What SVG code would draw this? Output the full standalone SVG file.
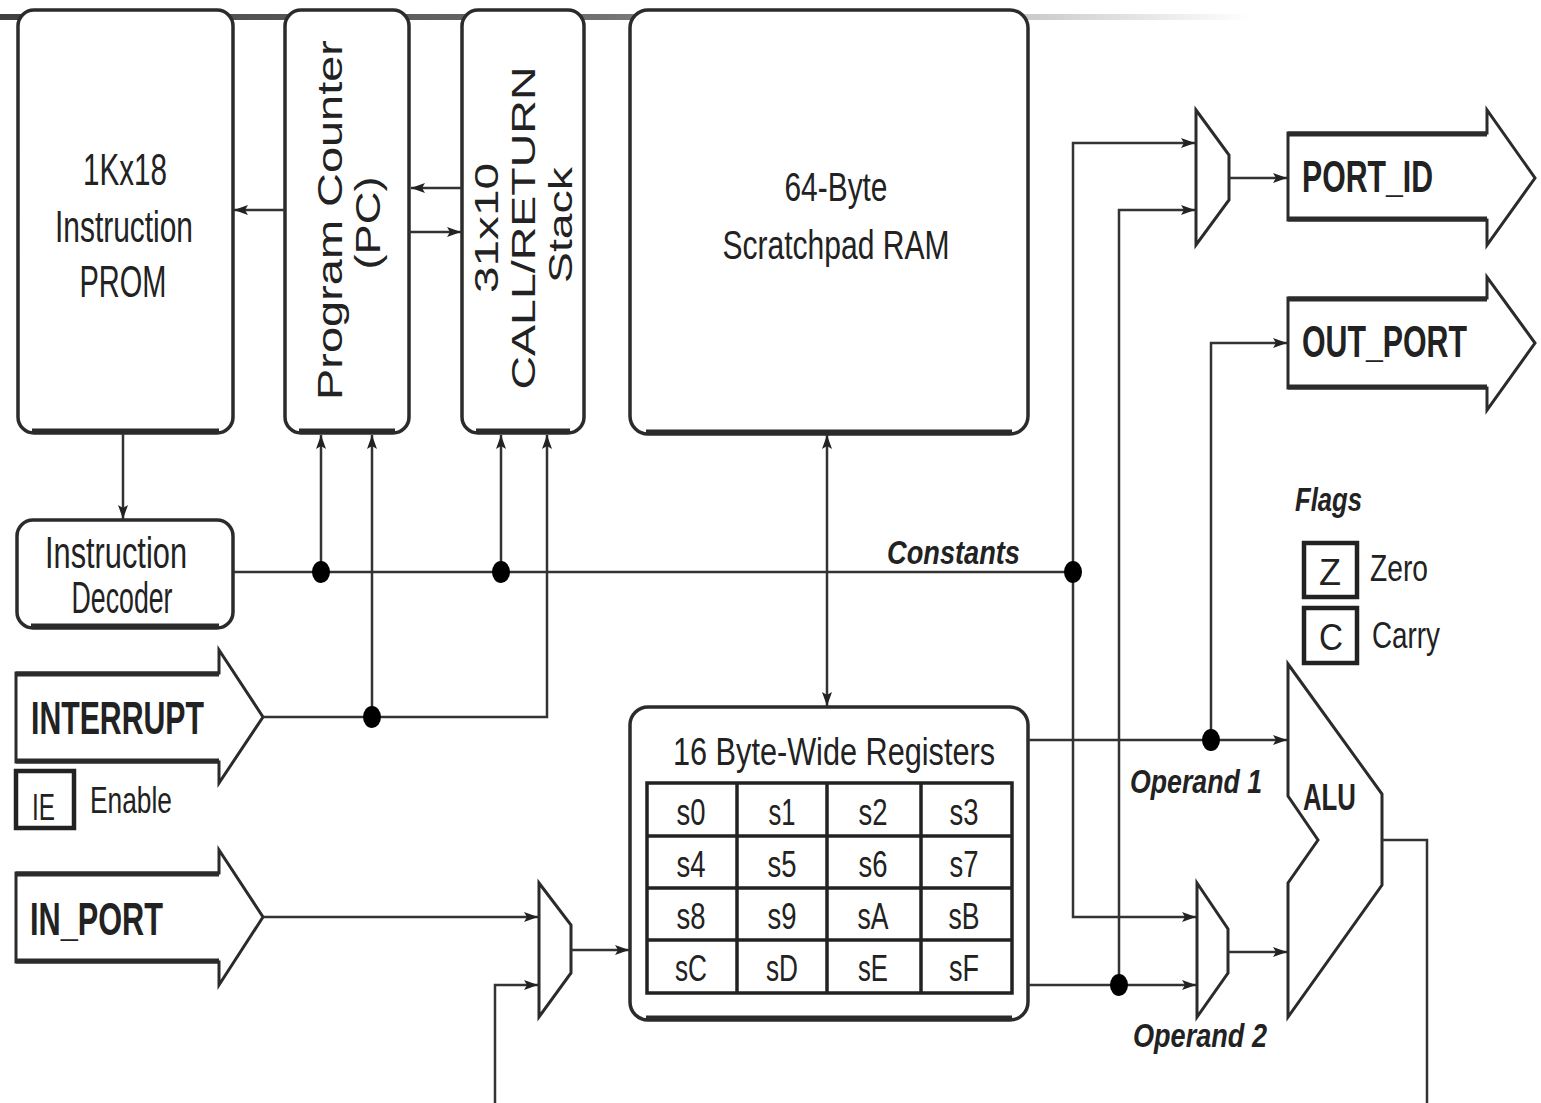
<svg xmlns="http://www.w3.org/2000/svg" width="1541" height="1103" viewBox="0 0 1541 1103">
<defs>
<linearGradient id="bar" x1="0" y1="0" x2="1250" y2="0" gradientUnits="userSpaceOnUse">
<stop offset="0" stop-color="#404040"/>
<stop offset="0.45" stop-color="#6a6a6a"/>
<stop offset="0.8" stop-color="#c4c4c4"/>
<stop offset="1" stop-color="#ffffff"/>
</linearGradient>
<marker id="ah" markerUnits="userSpaceOnUse" markerWidth="15" markerHeight="11" refX="14" refY="5" orient="auto-start-reverse" viewBox="0 0 15 10">
<path d="M0,0 L14,5 L0,10 L3,5 Z" fill="#222"/>
</marker>
<style>
.box{fill:#fff;stroke:#2b2b2b;stroke-width:3.5}
.shape{fill:#fff;stroke:#2b2b2b;stroke-width:3}
.flag{fill:#fff;stroke:#222;stroke-width:4.5}
.wire{fill:none;stroke:#333;stroke-width:2.5}
.arr{marker-end:url(#ah)}
.dot{fill:#000}
.t{font-family:"Liberation Sans",Arial,sans-serif;fill:#222}
.b{font-weight:bold}
.i{font-style:italic;font-weight:bold}
.grid{fill:none;stroke:#222;stroke-width:3.5}
.shadow{fill:none;stroke:#2b2b2b;stroke-width:5}
</style>
</defs>
<rect width="1541" height="1103" fill="#fff"/>

<rect x="0" y="14" width="1250" height="6" fill="url(#bar)"/>

<g id="prom">
<rect class="box" x="18" y="10" width="215" height="423" rx="16"/>
<path class="shadow" d="M32,431 H219"/>
<text class="t" x="125" y="185" font-size="45" text-anchor="middle" textLength="84" lengthAdjust="spacingAndGlyphs">1Kx18</text>
<text class="t" x="124" y="242" font-size="45" text-anchor="middle" textLength="138" lengthAdjust="spacingAndGlyphs">Instruction</text>
<text class="t" x="123" y="297" font-size="45" text-anchor="middle" textLength="87" lengthAdjust="spacingAndGlyphs">PROM</text>
</g>

<g id="pc">
<rect class="box" x="285" y="10" width="124" height="423" rx="16"/>
<path class="shadow" d="M299,431 H395"/>
<text class="t" transform="translate(342,220) rotate(-90)" font-size="35" text-anchor="middle" textLength="360" lengthAdjust="spacingAndGlyphs">Program Counter</text>
<text class="t" transform="translate(380,223) rotate(-90)" font-size="35" text-anchor="middle" textLength="93" lengthAdjust="spacingAndGlyphs">(PC)</text>
</g>

<g id="stack">
<rect class="box" x="462" y="10" width="122" height="423" rx="16"/>
<path class="shadow" d="M476,431 H570"/>
<text class="t" transform="translate(498,228) rotate(-90)" font-size="34" text-anchor="middle" textLength="130" lengthAdjust="spacingAndGlyphs">31x10</text>
<text class="t" transform="translate(535,228) rotate(-90)" font-size="34" text-anchor="middle" textLength="323" lengthAdjust="spacingAndGlyphs">CALL/RETURN</text>
<text class="t" transform="translate(572,225) rotate(-90)" font-size="34" text-anchor="middle" textLength="116" lengthAdjust="spacingAndGlyphs">Stack</text>
</g>

<g id="ram">
<rect class="box" x="630" y="10" width="398" height="424" rx="18"/>
<path class="shadow" d="M646,432 H1012"/>
<text class="t" x="836" y="201" font-size="40" text-anchor="middle" textLength="103" lengthAdjust="spacingAndGlyphs">64-Byte</text>
<text class="t" x="836" y="259" font-size="40" text-anchor="middle" textLength="227" lengthAdjust="spacingAndGlyphs">Scratchpad RAM</text>
</g>

<g id="decoder">
<rect class="box" x="17" y="520" width="216" height="108" rx="16"/>
<path class="shadow" d="M31,626 H219"/>
<text class="t" x="116" y="568" font-size="44" text-anchor="middle" textLength="142" lengthAdjust="spacingAndGlyphs">Instruction</text>
<text class="t" x="122" y="613" font-size="44" text-anchor="middle" textLength="101" lengthAdjust="spacingAndGlyphs">Decoder</text>
</g>

<g id="interrupt">
<path class="shape" d="M16,673 H219 V650 L263,717 L219,783 V762 H16 Z"/>
<path d="M16,674 H219 M16,761 H219" stroke="#2b2b2b" stroke-width="5"/>
<text class="t b" x="31" y="734" font-size="46" textLength="173" lengthAdjust="spacingAndGlyphs">INTERRUPT</text>
</g>

<g id="ie">
<rect class="flag" x="16" y="771" width="58" height="57"/>
<text class="t" x="32" y="820" font-size="36" textLength="23" lengthAdjust="spacingAndGlyphs">IE</text>
<text class="t" x="90" y="813" font-size="36" textLength="82" lengthAdjust="spacingAndGlyphs">Enable</text>
</g>

<g id="in_port">
<path class="shape" d="M16,873 H219 V850 L263,917 L219,985 V962 H16 Z"/>
<path d="M16,874 H219 M16,961 H219" stroke="#2b2b2b" stroke-width="5"/>
<text class="t b" x="30" y="935" font-size="46" textLength="133" lengthAdjust="spacingAndGlyphs">IN_PORT</text>
</g>

<g id="in_mux">
<path class="shape" d="M539,883 L571,925 V973 L539,1017 Z"/>
</g>

<g id="registers">
<rect class="box" x="630" y="707" width="398" height="313" rx="18"/>
<path class="shadow" d="M646,1018 H1012"/>
<text class="t" x="834" y="765" font-size="38" text-anchor="middle" textLength="322" lengthAdjust="spacingAndGlyphs">16 Byte-Wide Registers</text>
<rect class="grid" x="647" y="783" width="365" height="210"/>
<path class="grid" d="M737,783 V993 M827,783 V993 M921,783 V993 M647,836 H1012 M647,888 H1012 M647,940 H1012"/>
<g class="t" font-size="36" text-anchor="middle">
<text x="691" y="825" textLength="29" lengthAdjust="spacingAndGlyphs">s0</text>
<text x="782" y="825" textLength="27" lengthAdjust="spacingAndGlyphs">s1</text>
<text x="873" y="825" textLength="29" lengthAdjust="spacingAndGlyphs">s2</text>
<text x="964" y="825" textLength="29" lengthAdjust="spacingAndGlyphs">s3</text>
<text x="691" y="877" textLength="29" lengthAdjust="spacingAndGlyphs">s4</text>
<text x="782" y="877" textLength="29" lengthAdjust="spacingAndGlyphs">s5</text>
<text x="873" y="877" textLength="29" lengthAdjust="spacingAndGlyphs">s6</text>
<text x="964" y="877" textLength="29" lengthAdjust="spacingAndGlyphs">s7</text>
<text x="691" y="929" textLength="29" lengthAdjust="spacingAndGlyphs">s8</text>
<text x="782" y="929" textLength="29" lengthAdjust="spacingAndGlyphs">s9</text>
<text x="873" y="929" textLength="31" lengthAdjust="spacingAndGlyphs">sA</text>
<text x="964" y="929" textLength="31" lengthAdjust="spacingAndGlyphs">sB</text>
<text x="691" y="981" textLength="32" lengthAdjust="spacingAndGlyphs">sC</text>
<text x="782" y="981" textLength="32" lengthAdjust="spacingAndGlyphs">sD</text>
<text x="873" y="981" textLength="30" lengthAdjust="spacingAndGlyphs">sE</text>
<text x="964" y="981" textLength="30" lengthAdjust="spacingAndGlyphs">sF</text>
</g>
</g>

<g id="port_mux">
<path class="shape" d="M1196,110 L1229,155 V200 L1196,245 Z"/>
</g>

<g id="port_id">
<path class="shape" d="M1288,133 H1487 V110 L1535,178 L1487,245 V220 H1288 Z"/>
<path d="M1288,134 H1487 M1288,219 H1487" stroke="#2b2b2b" stroke-width="5"/>
<text class="t b" x="1302" y="192" font-size="44" textLength="131" lengthAdjust="spacingAndGlyphs">PORT_ID</text>
</g>

<g id="out_port">
<path class="shape" d="M1288,298 H1487 V277 L1535,343 L1487,410 V388 H1288 Z"/>
<path d="M1288,299 H1487 M1288,387 H1487" stroke="#2b2b2b" stroke-width="5"/>
<text class="t b" x="1302" y="357" font-size="44" textLength="165" lengthAdjust="spacingAndGlyphs">OUT_PORT</text>
</g>

<g id="flags">
<text class="t i" x="1295" y="511" font-size="34" textLength="67" lengthAdjust="spacingAndGlyphs">Flags</text>
<rect class="flag" x="1304" y="543" width="53" height="54"/>
<text class="t" x="1330" y="585" font-size="36" text-anchor="middle" textLength="22" lengthAdjust="spacingAndGlyphs">Z</text>
<text class="t" x="1370" y="581" font-size="36" textLength="58" lengthAdjust="spacingAndGlyphs">Zero</text>
<rect class="flag" x="1304" y="608" width="53" height="55"/>
<text class="t" x="1331" y="650" font-size="36" text-anchor="middle" textLength="24" lengthAdjust="spacingAndGlyphs">C</text>
<text class="t" x="1372" y="648" font-size="36" textLength="68" lengthAdjust="spacingAndGlyphs">Carry</text>
</g>

<g id="op2_mux">
<path class="shape" d="M1197,883 L1228,929 V973 L1197,1017 Z"/>
</g>

<g id="alu">
<path class="shape" d="M1288,664 L1382,794 V885 L1288,1017 V883 L1318,840 L1288,796 Z"/>
<text class="t b" x="1303" y="810" font-size="36" textLength="53" lengthAdjust="spacingAndGlyphs">ALU</text>
</g>

<g id="labels">
<text class="t i" x="887" y="564" font-size="34" textLength="133" lengthAdjust="spacingAndGlyphs">Constants</text>
<text class="t i" x="1130" y="793" font-size="34" textLength="132" lengthAdjust="spacingAndGlyphs">Operand 1</text>
<text class="t i" x="1133" y="1047" font-size="34" textLength="134" lengthAdjust="spacingAndGlyphs">Operand 2</text>
</g>

<g id="connectors">
<path class="wire arr" d="M285,210 H234"/>
<path class="wire arr" d="M462,188 H411"/>
<path class="wire arr" d="M409,232 H461"/>
<path class="wire arr" d="M123,434 V519"/>
<path class="wire" d="M233,572 H1073"/>
<path class="wire arr" d="M321,572 V435"/>
<path class="wire arr" d="M372,717 V435"/>
<path class="wire arr" d="M501,572 V435"/>
<path class="wire arr" d="M263,717 H547 V435"/>
<path class="wire arr" d="M827,706 V435" marker-start="url(#ah)"/>
<path class="wire arr" d="M263,917 H538"/>
<path class="wire arr" d="M495,1103 V985 H538"/>
<path class="wire arr" d="M571,950 H629"/>
<path class="wire arr" d="M1028,740 H1287"/>
<path class="wire arr" d="M1028,985 H1196"/>
<path class="wire arr" d="M1073,572 V143 H1195"/>
<path class="wire arr" d="M1073,572 V917 H1196"/>
<path class="wire arr" d="M1119,985 V210 H1195"/>
<path class="wire arr" d="M1211,740 V343 H1287"/>
<path class="wire arr" d="M1229,178 H1287"/>
<path class="wire arr" d="M1228,952 H1287"/>
<path class="wire" d="M1382,840 H1427 V1103"/>
<ellipse class="dot" cx="321" cy="572" rx="9" ry="11"/>
<ellipse class="dot" cx="501" cy="572" rx="9" ry="11"/>
<ellipse class="dot" cx="1073" cy="572" rx="9" ry="11"/>
<ellipse class="dot" cx="372" cy="717" rx="9" ry="11"/>
<ellipse class="dot" cx="1211" cy="740" rx="9" ry="11"/>
<ellipse class="dot" cx="1119" cy="985" rx="9" ry="11"/>
</g>
</svg>
